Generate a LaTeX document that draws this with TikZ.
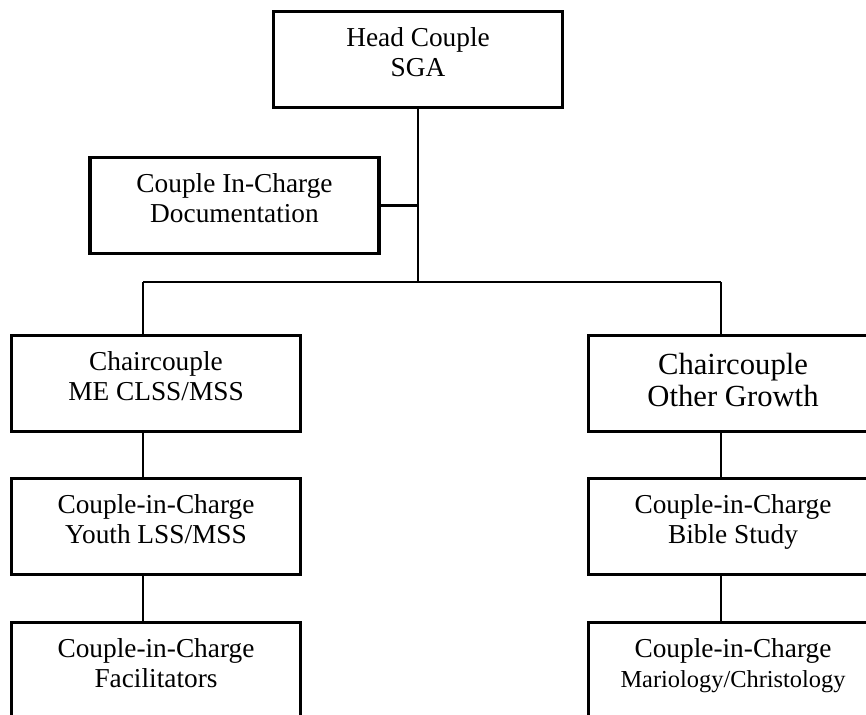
\documentclass[tikz,border=0pt]{standalone}
\usepackage{fontspec}
\setmainfont{Liberation Serif}
\usetikzlibrary{calc}
\tikzset{
  orgbox/.style={draw,line width=2.4pt,anchor=north,minimum width=216.75pt,
    inner xsep=0pt,inner ysep=0pt,text height=48.75pt,text depth=23.25pt,
    align=center,font=\fontsize{20.5}{22.5}\selectfont},
  bigbox/.style={orgbox,text height=53.25pt,text depth=18.75pt,
    font=\fontsize{23}{24}\selectfont},
  link/.style={line width=2pt}
}
\begin{document}
\begin{tikzpicture}[x=0.75pt,y=-0.75pt]
          \useasboundingbox (0,0) rectangle (866,714);
          \clip (0,0) rectangle (866,714);
          \node[orgbox] (head) at (418,10) {Head Couple\\SGA};
          \node[orgbox] (doc) at (234.5,156) {Couple In-Charge\\Documentation};
          \node[orgbox] (chairL) at (156,334) {Chaircouple\\ME CLSS/MSS};
          \node[bigbox] (chairR) at (733,334) {Chaircouple\\Other Growth};
          \node[orgbox] (youthL) at (156,477) {Couple-in-Charge\\Youth LSS/MSS};
          \node[orgbox] (bibleR) at (733,477) {Couple-in-Charge\\Bible Study};
          \node[orgbox] (facL) at (156,621) {Couple-in-Charge\\Facilitators};
          \node[orgbox] (marR) at (733,621) {Couple-in-Charge\\{\fontsize{18.3}{22.5}\selectfont Mariology/Christology}};
          \coordinate (bus) at (418,282);
          \coordinate (busL) at (143,282);
          \coordinate (busR) at (721,282);
          \draw[link] (head.south) -- (bus);
          \draw[link] (doc.east) -- (doc.east -| bus);
          \draw[link] (busL) -- (busR);
          \draw[link] (busL) -- (busL |- chairL.north);
          \draw[link] (busR) -- (busR |- chairR.north);
          \draw[link] (chairL.south -| busL) -- (youthL.north -| busL);
          \draw[link] (chairR.south -| busR) -- (bibleR.north -| busR);
          \draw[link] (youthL.south -| busL) -- (facL.north -| busL);
          \draw[link] (bibleR.south -| busR) -- (marR.north -| busR);
        \end{tikzpicture}
\end{document}
